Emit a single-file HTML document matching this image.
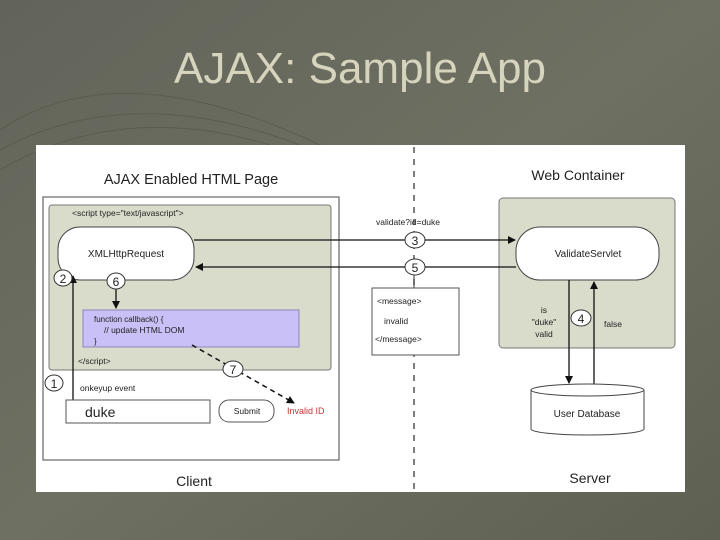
<!DOCTYPE html>
<html><head><meta charset="utf-8"><style>
html,body{margin:0;padding:0;width:720px;height:540px;overflow:hidden;background:#6a6c5c;}
svg{display:block}
text{font-family:"Liberation Sans",sans-serif;fill:#222}
</style></head><body>
<svg width="720" height="540" viewBox="0 0 720 540" xmlns="http://www.w3.org/2000/svg">
<defs>
<linearGradient id="bg" x1="0" y1="0" x2="1" y2="1">
<stop offset="0" stop-color="#62645a"/><stop offset="0.5" stop-color="#6e7062"/><stop offset="1" stop-color="#5e6052"/>
</linearGradient>
<marker id="ah" markerWidth="8" markerHeight="8" refX="7" refY="4" orient="auto" markerUnits="userSpaceOnUse">
<path d="M0,0 L8,4 L0,8 z" fill="#111"/></marker>
</defs>
<rect width="720" height="540" fill="url(#bg)"/>
<g stroke="#55574a" fill="none" stroke-width="1" opacity="0.7">
<path d="M0,130 Q120,50 320,145"/><path d="M0,150 Q130,80 300,145"/><path d="M0,170 Q120,100 270,145"/>
</g>
<text x="360" y="83" text-anchor="middle" font-size="44" textLength="372" lengthAdjust="spacingAndGlyphs" style="fill:#d6d4bc">AJAX: Sample App</text>

<rect x="36" y="145" width="649" height="347" fill="#fff"/>
<line x1="414" y1="147" x2="414" y2="492" stroke="#555" stroke-width="1.5" stroke-dasharray="6,6"/>

<text x="191" y="184" text-anchor="middle" font-size="14.5">AJAX Enabled HTML Page</text>
<rect x="43" y="197" width="296" height="263" fill="#fff" stroke="#666" stroke-width="1.2"/>
<rect x="49" y="205" width="282" height="165" rx="3" fill="#d9dccb" stroke="#777"/>
<text x="72" y="216" font-size="8.5">&lt;script type="text/javascript"&gt;</text>
<rect x="58" y="227" width="136" height="53" rx="22" fill="#fff" stroke="#444"/>
<text x="126" y="257" text-anchor="middle" font-size="10">XMLHttpRequest</text>

<text x="578" y="180" text-anchor="middle" font-size="14">Web Container</text>
<rect x="499" y="198" width="176" height="150" rx="4" fill="#d9dccb" stroke="#777"/>
<rect x="516" y="227" width="143" height="53" rx="24" fill="#fff" stroke="#444"/>
<text x="588" y="257" text-anchor="middle" font-size="10">ValidateServlet</text>

<line x1="194" y1="240" x2="515" y2="240" stroke="#111" stroke-width="1.3" marker-end="url(#ah)"/>
<line x1="516" y1="267" x2="196" y2="267" stroke="#111" stroke-width="1.3" marker-end="url(#ah)"/>

<rect x="83" y="310" width="216" height="37" fill="#c8c0f6" stroke="#8888bb"/>
<text x="94" y="322" font-size="8">function callback() {</text>
<text x="104" y="333" font-size="8.5" font-family="Liberation Mono,monospace">// update HTML DOM</text>
<text x="94" y="344" font-size="8">}</text>
<text x="78" y="364" font-size="8.5">&lt;/script&gt;</text>

<line x1="116" y1="288" x2="116" y2="308" stroke="#111" stroke-width="1.3" marker-end="url(#ah)"/>
<line x1="73" y1="400" x2="73" y2="276" stroke="#111" stroke-width="1.3" marker-end="url(#ah)"/>
<line x1="192" y1="345" x2="294" y2="403" stroke="#111" stroke-width="1.5" stroke-dasharray="5,4" marker-end="url(#ah)"/>

<g stroke="#333" fill="#fff">
<ellipse cx="63" cy="278" rx="9" ry="8"/>
<ellipse cx="116" cy="281" rx="9" ry="8"/>
<ellipse cx="54" cy="383" rx="9" ry="8"/>
<ellipse cx="233" cy="369" rx="10" ry="8"/>
<ellipse cx="415" cy="240" rx="10" ry="8"/>
<ellipse cx="415" cy="267" rx="10" ry="8"/>
<ellipse cx="581" cy="318" rx="10" ry="8"/>
</g>
<g font-size="12" text-anchor="middle">
<text x="63" y="283">2</text><text x="116" y="286">6</text><text x="54" y="388">1</text>
<text x="233" y="374">7</text><text x="415" y="245">3</text><text x="415" y="272">5</text><text x="581" y="323">4</text>
</g>

<text x="80" y="391" font-size="8.5">onkeyup event</text>
<rect x="66" y="400" width="144" height="23" fill="#fff" stroke="#555"/>
<text x="85" y="417" font-size="14">duke</text>
<rect x="219" y="400" width="55" height="22" rx="10" fill="#fff" stroke="#555"/>
<text x="247" y="414" text-anchor="middle" font-size="8.5">Submit</text>
<text x="287" y="414" font-size="9" style="fill:#cc3333">Invalid ID</text>
<text x="194" y="486" text-anchor="middle" font-size="14">Client</text>

<text x="408" y="225" text-anchor="middle" font-size="8.5">validate?id=duke</text>
<line x1="414" y1="275" x2="414" y2="288" stroke="#333"/>
<rect x="372" y="288" width="87" height="67" fill="#fff" stroke="#555"/>
<text x="377" y="304" font-size="8.5">&lt;message&gt;</text>
<text x="384" y="324" font-size="8.5">invalid</text>
<text x="375" y="342" font-size="8.5">&lt;/message&gt;</text>

<line x1="569" y1="280" x2="569" y2="383" stroke="#111" stroke-width="1.3" marker-end="url(#ah)"/>
<line x1="594" y1="385" x2="594" y2="282" stroke="#111" stroke-width="1.3" marker-end="url(#ah)"/>
<g font-size="8.5" text-anchor="middle"><text x="544" y="313">is</text><text x="544" y="325">"duke"</text><text x="544" y="337">valid</text></g>
<text x="604" y="327" font-size="8.5">false</text>

<path d="M531,390 L531,429 A56.5,6 0 0 0 644,429 L644,390" fill="#fff" stroke="#444"/>
<ellipse cx="587.5" cy="390" rx="56.5" ry="6" fill="#fff" stroke="#444"/>
<text x="587" y="417" text-anchor="middle" font-size="10">User Database</text>
<text x="590" y="483" text-anchor="middle" font-size="14">Server</text>
</svg>
</body></html>
